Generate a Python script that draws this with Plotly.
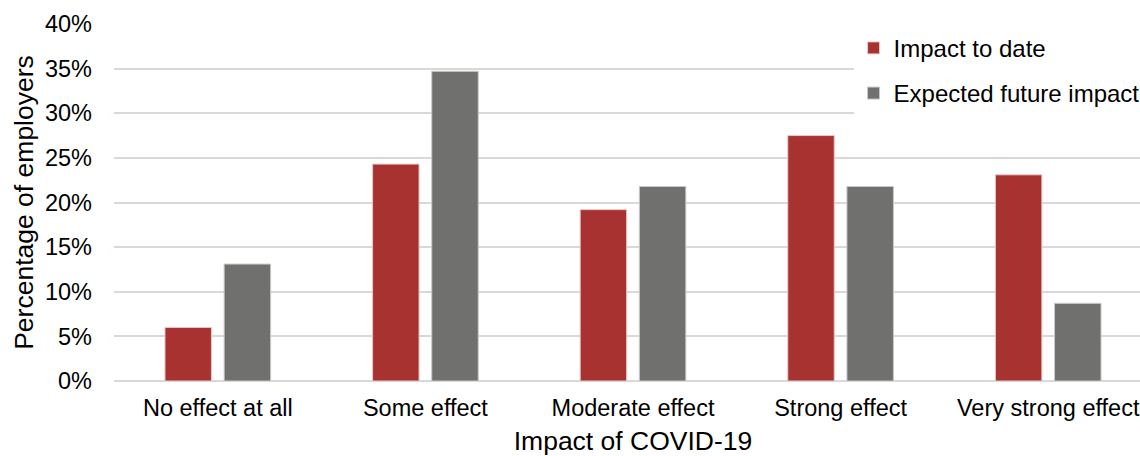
import plotly.graph_objects as go

categories = ["No effect at all", "Some effect", "Moderate effect", "Strong effect", "Very strong effect"]
impact_to_date = [0.060, 0.243, 0.192, 0.275, 0.231]
expected_future = [0.131, 0.347, 0.218, 0.218, 0.087]
series_names = ["Impact to date", "Expected future impact"]
y_ticks = [0, 0.05, 0.10, 0.15, 0.20, 0.25, 0.30, 0.35, 0.40]

RED = "#A83230"
GRAY = "#70706E"
FONT = "Liberation Sans, Arial, sans-serif"

fig = go.Figure()
fig.add_trace(go.Bar(x=categories, y=impact_to_date, name=series_names[0],
                     marker=dict(color=RED, line=dict(color="#e8c8c8", width=1)),
                     legendgroup="a"))
fig.add_trace(go.Bar(x=categories, y=expected_future, name=series_names[1],
                     marker=dict(color=GRAY, line=dict(color="#c8c8c8", width=1)),
                     legendgroup="b"))

fig.update_layout(
    width=1152, height=456,
    margin=dict(l=114, r=0, t=24, b=75),
    paper_bgcolor="white", plot_bgcolor="white",
    font=dict(family=FONT, size=23.5, color="#000000"),
    barmode="group", bargap=0.43, bargroupgap=0.2145,
    showlegend=True,
    legend=dict(x=0.7125, y=0.995, xanchor="left", yanchor="top",
                bgcolor="white", font=dict(size=24, family=FONT),
                tracegroupgap=11, itemwidth=30),
    xaxis=dict(title=dict(text="Impact of COVID-19", font=dict(size=26.5), standoff=13),
               showgrid=False, showline=False, ticks="", tickfont=dict(size=23.5),
               ticklabelstandoff=10, automargin=False),
    yaxis=dict(title=dict(text="Percentage of employers", font=dict(size=26.5), standoff=3),
               range=[0, 0.40], tickvals=y_ticks, tickformat=".0%",
               showgrid=True, gridcolor="#d9d9d9", gridwidth=1.5,
               zeroline=True, zerolinecolor="#d9d9d9", zerolinewidth=1.5,
               showline=False, ticks="", tickfont=dict(size=23.5),
               ticklabelstandoff=21, automargin=False),
)

fig.write_html("out.html", config={"displayModeBar": False},
               post_script="document.body.style.margin='0';document.body.style.overflow='hidden';")
